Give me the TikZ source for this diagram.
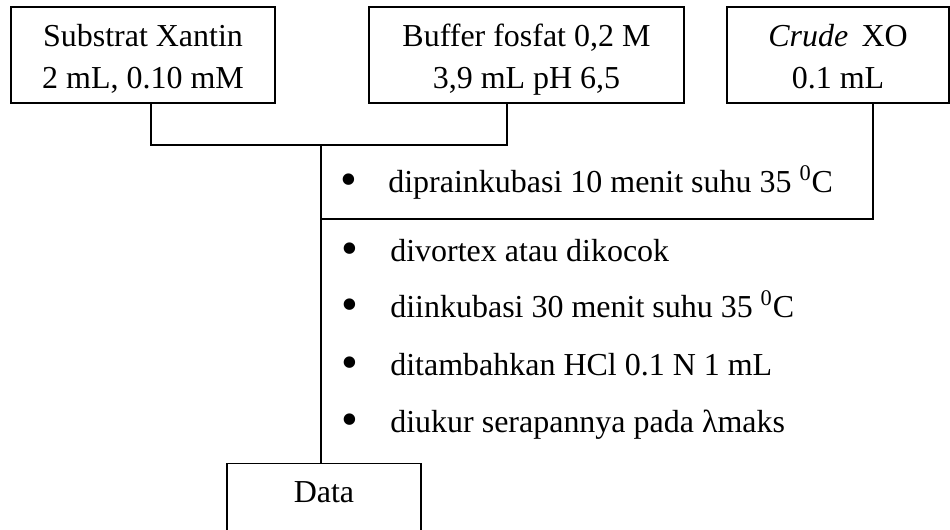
\documentclass[tikz,border=0pt]{standalone}
\usepackage{fontspec}
\setmainfont{Liberation Serif}
\usepackage{tikz}
\usetikzlibrary{calc}

\newcommand{\twolines}[2]{\raisebox{-0.08cm}[\height][\depth]{\begin{tabular}{@{}c@{}}#1\\#2\end{tabular}}}

\begin{document}
\begin{tikzpicture}[x=0.02cm, y=-0.02cm,
    every node/.style={font=\fontsize{18.2}{24}\selectfont},
    box/.style={draw, line width=0.7pt, align=center, inner sep=0pt},
    link/.style={line width=1.2pt},
    stepitem/.style={anchor=base west, inner sep=0pt},
    dot/.style={anchor=base, inner sep=0pt}]
    \clip (0,0) rectangle (950,529);
    % bahan awal
    \node[box, minimum width=5.28cm, minimum height=1.92cm] (substrat) at (143,55)
        {\twolines{Substrat Xantin}{2 mL, 0.10 mM}};
    \node[box, minimum width=6.3cm, minimum height=1.92cm] (buffer) at (526.5,55)
        {\twolines{Buffer fosfat 0,2 M}{3,9 mL pH 6,5}};
    \node[box, minimum width=4.44cm, minimum height=1.92cm] (crude) at (838,55)
        {\twolines{\textit{Crude}\, XO}{0.1 mL}};
    % hasil
    \node[box, anchor=north, minimum width=3.88cm, inner ysep=0.2cm,
        text height=0.58cm, text depth=1cm] (data) at (324,463) {Data};
    % sambungan
    \coordinate (jsub) at (151,145);
    \coordinate (jbuf) at (507,145);
    \coordinate (mix) at (321,145);
    \coordinate (jxo) at (873,219);
    \draw[link] (jsub |- substrat.south) -- (jsub) -- (jbuf) -- (jbuf |- buffer.south);
    \draw[link] (jxo |- crude.south) -- (jxo) -- (jxo -| mix);
    \draw[link] (mix) -- (mix |- data.north);
    % perlakuan
    \node[dot] (b0) at (349,192) {\raisebox{-0.1em}{\scalebox{1.5}{\textbullet}}};
    \node[stepitem] (s0) at (388,192) {diprainkubasi 10 menit suhu 35 \textsuperscript{0}C};
    \node[dot] (b1) at (350,261) {\raisebox{-0.1em}{\scalebox{1.5}{\textbullet}}};
    \node[stepitem] (s1) at (390,261) {divortex atau dikocok};
    \node[dot] (b2) at (350,317) {\raisebox{-0.1em}{\scalebox{1.5}{\textbullet}}};
    \node[stepitem] (s2) at (390,317) {diinkubasi 30 menit suhu 35 \textsuperscript{0}C};
    \node[dot] (b3) at (350,375) {\raisebox{-0.1em}{\scalebox{1.5}{\textbullet}}};
    \node[stepitem] (s3) at (390,375) {ditambahkan HCl 0.1 N 1 mL};
    \node[dot] (b4) at (350,432) {\raisebox{-0.1em}{\scalebox{1.5}{\textbullet}}};
    \node[stepitem] (s4) at (390,432) {diukur serapannya pada λmaks};
\end{tikzpicture}
\end{document}
